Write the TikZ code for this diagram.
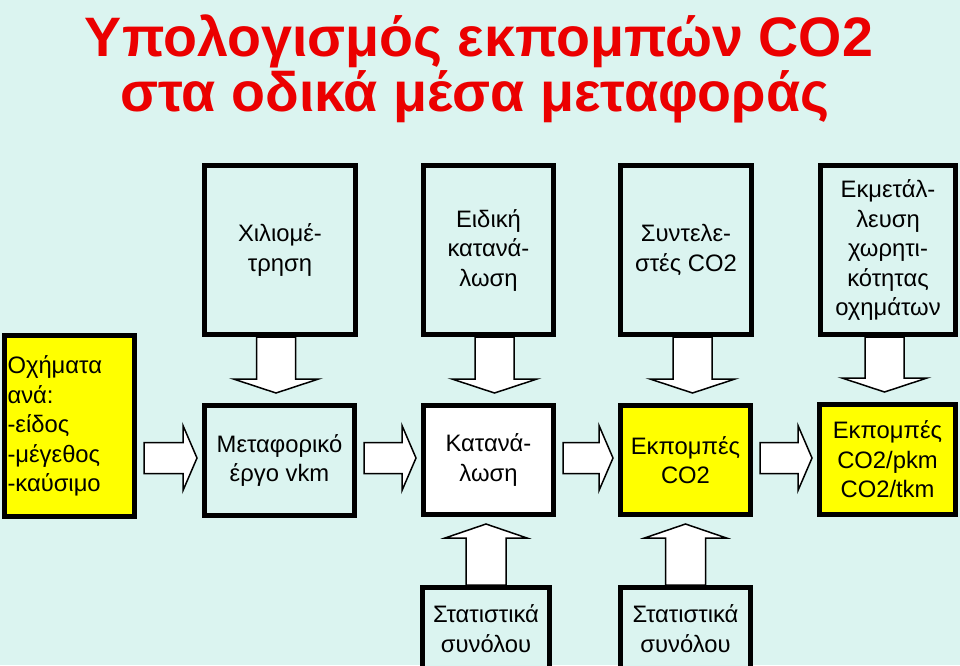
\documentclass[tikz,border=0pt]{standalone}
\usepackage{fontspec}
\setmainfont{Liberation Sans}
\usetikzlibrary{calc}
\definecolor{bg}{RGB}{219,244,240}
\definecolor{titlered}{RGB}{235,0,0}
\definecolor{ybox}{RGB}{255,255,0}
\newcommand\fs{\fontsize{23.8}{29.5}\selectfont}
\newcommand\downarr[3]{%
 \draw[arr] let \p1=($(#1.south)+(#3,0)$), \p2=(#2.north) in
 ({\x1-19.5pt},\y1) -- ({\x1-19.5pt},{\y2+24pt}) -- ({\x1-42.5pt},{\y2+24pt}) -- (\x1,{\y2+10pt})
 -- ({\x1+42.5pt},{\y2+24pt}) -- ({\x1+19.5pt},{\y2+24pt}) -- ({\x1+19.5pt},\y1) -- cycle;}
\newcommand\rightarr[2]{%
 \draw[arr] let \p1=($(#1.east)+(7,0)$), \p2=($(#2.west)+(-5,0)$), \p3=(0,458) in
 (\x1,{\y3+15.5pt}) -- ({\x2-14pt},{\y3+15.5pt}) -- ({\x2-14pt},{\y3+32.5pt}) -- (\x2,\y3)
 -- ({\x2-14pt},{\y3-32.5pt}) -- ({\x2-14pt},{\y3-15.5pt}) -- (\x1,{\y3-15.5pt}) -- cycle;}
\newcommand\uparr[2]{%
 \draw[arr] let \p1=(#1.north), \p2=(#2.south) in
 ({\x1-20pt},\y1) -- ({\x1-20pt},{\y2-21pt}) -- ({\x1-41pt},{\y2-21pt}) -- (\x1,{\y2-7pt})
 -- ({\x1+41pt},{\y2-21pt}) -- ({\x1+20pt},{\y2-21pt}) -- ({\x1+20pt},\y1) -- cycle;}
\begin{document}
\begin{tikzpicture}[x=1pt,y=-1pt,
  box/.style={draw=black, line width=5pt, inner sep=0pt, align=center, font=\fs, text=black},
  arr/.style={draw=black, line width=1.5pt, fill=white, line join=miter},
  titletext/.style={text=titlered, font=\fontsize{55.6}{56}\selectfont\bfseries, anchor=base, inner sep=0pt}]
\useasboundingbox (0,0) rectangle (960,665);
\fill[bg] (0,0) rectangle (960,665);
% title
\node[titletext] (title1) at (479,56) {Υπολογισμός εκπομπών CO2};
\node[titletext] (title2) at (475,111) {στα οδικά μέσα μεταφοράς};
% top row
\node[box, fill=bg, minimum width=151pt, minimum height=169pt] (km) at (280,250) {Χιλιομέ-\\τρηση};
\node[box, fill=bg, minimum width=130pt, minimum height=169pt] (spec) at (488.5,250) {Ειδική\\κατανά-\\λωση};
\node[box, fill=bg, minimum width=131pt, minimum height=169pt] (coef) at (686,250) {Συντελε-\\στές CO2};
\node[box, fill=bg, minimum width=135pt, minimum height=169pt] (util) at (888,250) {Εκμετάλ-\\λευση\\χωρητι-\\κότητας\\οχημάτων};
% middle row
\node[box, fill=ybox, minimum width=130pt, minimum height=181pt, text width=124pt, align=left] (veh) at (69.5,426) {Οχήματα\\ανά:\\-είδος\\-μέγεθος\\-καύσιμο};
\node[box, fill=bg, minimum width=150pt, minimum height=110pt] (vkm) at (279.5,460.5) {Μεταφορικό\\έργο vkm};
\node[box, fill=white, minimum width=130pt, minimum height=109pt] (cons) at (488.5,460) {Κατανά-\\λωση};
\node[box, fill=ybox, minimum width=130pt, minimum height=109pt] (emis) at (685.5,460) {Εκπομπές\\CO2};
\node[box, fill=ybox, minimum width=136pt, minimum height=110pt] (emisp) at (887.5,459.5) {Εκπομπές\\CO2/pkm\\CO2/tkm};
% bottom row
\node[box, fill=bg, minimum width=127pt, minimum height=82.5pt] (stat1) at (486,628.75) {Στατιστικά\\συνόλου};
\node[box, fill=bg, minimum width=130pt, minimum height=82.5pt] (stat2) at (685.5,628.75) {Στατιστικά\\συνόλου};
% arrows
\rightarr{veh}{vkm}
\rightarr{vkm}{cons}
\rightarr{cons}{emis}
\rightarr{emis}{emisp}
\downarr{km}{vkm}{-4}
\downarr{spec}{cons}{6}
\downarr{coef}{emis}{6.5}
\downarr{util}{emisp}{-3.5}
\uparr{stat1}{cons}
\uparr{stat2}{emis}
\end{tikzpicture}
\end{document}
